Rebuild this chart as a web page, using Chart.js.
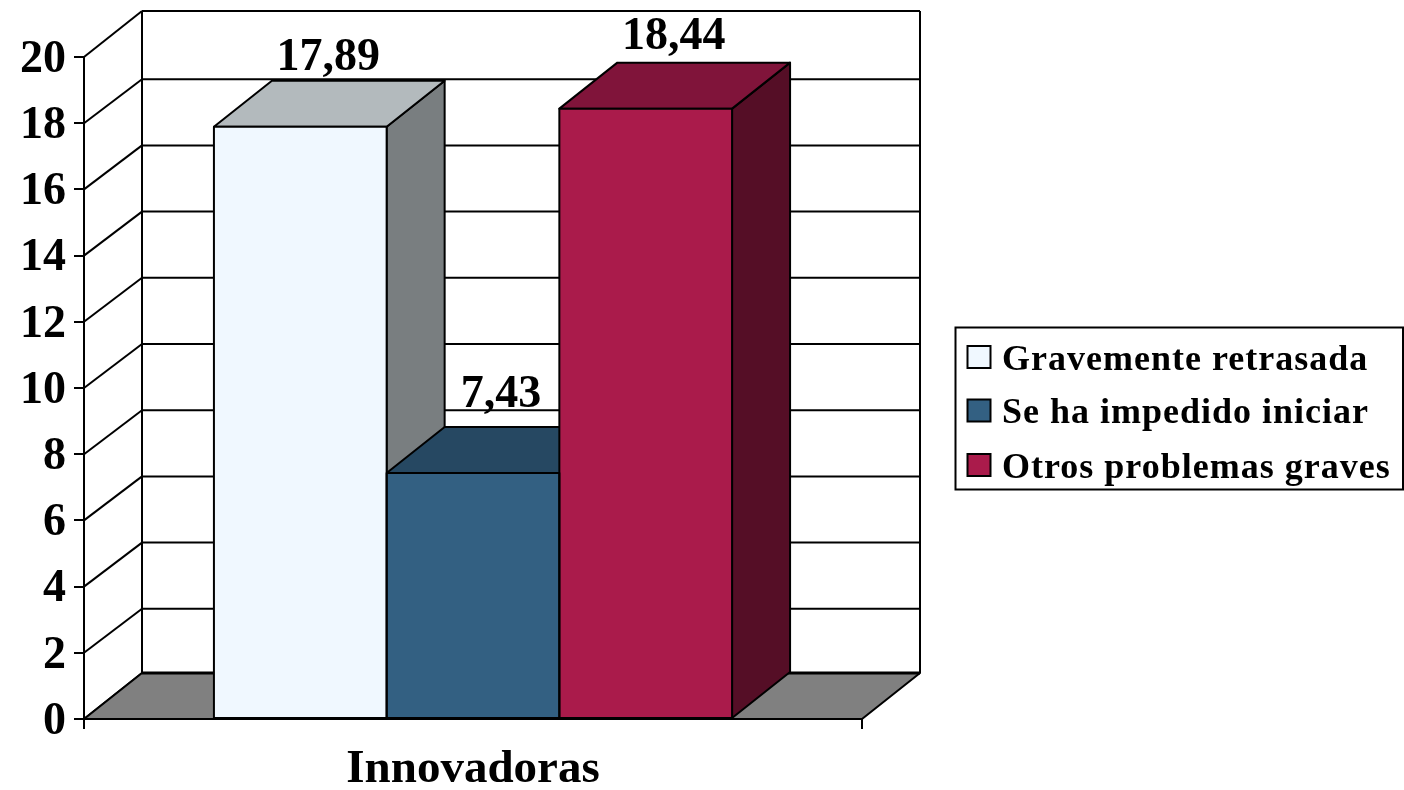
<!DOCTYPE html>
<html>
<head>
<meta charset="utf-8">
<style>
html, body { margin: 0; padding: 0; background: #fff; }
canvas { display: block; }
</style>
<script src="https://cdn.jsdelivr.net/npm/chart.js@4/dist/chart.umd.js"></script>
</head>
<body>
<canvas id="myChart" width="1404" height="790"></canvas>
<script type="text/javascript">
const categories = ["Innovadoras"];
const seriesNames = ["Gravemente retrasada", "Se ha impedido iniciar", "Otros problemas graves"];
const gravementeRetrasada = [17.89];
const impedidoIniciar = [7.43];
const otrosProblemas = [18.44];
const frontColors = ["#F0F8FF", "#336082", "#AA1B4B"];
const topColors = ["#B3BABD", "#264862", "#80143A"];
const sideColors = ["#797E80", "#1A3041", "#550E26"];

const SERIF = "'Liberation Serif', 'Times New Roman', serif";
const DEPTH_X = 58;
const DEPTH_Y = 46;

function poly(ctx, pts, fill, lw) {
	ctx.beginPath();
	pts.forEach((p, i) => i ? ctx.lineTo(p[0], p[1]) : ctx.moveTo(p[0], p[1]));
	ctx.closePath();
	if (fill) { ctx.fillStyle = fill; ctx.fill(); }
	ctx.lineWidth = lw;
	ctx.strokeStyle = "#000";
	ctx.lineJoin = "round";
	ctx.stroke();
}

function line(ctx, x1, y1, x2, y2, lw) {
	ctx.beginPath();
	ctx.moveTo(x1, y1);
	ctx.lineTo(x2, y2);
	ctx.lineWidth = lw;
	ctx.strokeStyle = "#000";
	ctx.stroke();
}

// back wall, floor and the side and top faces of the bars
const box3d = {
	id: "box3d",
	beforeDatasetsDraw(chart) {
		const ctx = chart.ctx;
		const a = chart.chartArea;
		const yScale = chart.scales.y;
		ctx.save();
		yScale.ticks.forEach(t => {
			const y = yScale.getPixelForValue(t.value);
			// inner wall lines sit a little lower than the corners in the original
			const dy = (t.value == 0 || t.value == 20) ? DEPTH_Y : DEPTH_Y - 2;
			line(ctx, a.left, y, a.left + DEPTH_X, y - dy, 2);
			if (t.value > 0) line(ctx, a.left + DEPTH_X, y - dy, a.right + DEPTH_X, y - dy, 2);
		});
		line(ctx, a.left + DEPTH_X, a.top - DEPTH_Y, a.left + DEPTH_X, a.bottom - DEPTH_Y, 2);
		line(ctx, a.right + DEPTH_X, a.top - DEPTH_Y, a.right + DEPTH_X, a.bottom - DEPTH_Y, 2);
		poly(ctx, [[a.left, a.bottom], [a.left + DEPTH_X, a.bottom - DEPTH_Y], [a.right + DEPTH_X, a.bottom - DEPTH_Y], [a.right, a.bottom]], "#808080", 2);
		line(ctx, a.left + DEPTH_X, a.bottom - DEPTH_Y, a.right + DEPTH_X, a.bottom - DEPTH_Y, 3);
		chart.data.datasets.forEach((ds, i) => {
			const bar = chart.getDatasetMeta(i).data[0];
			const l = bar.x - bar.width / 2;
			const r = bar.x + bar.width / 2;
			poly(ctx, [[r, bar.y], [r + DEPTH_X, bar.y - DEPTH_Y], [r + DEPTH_X, bar.base - DEPTH_Y], [r, bar.base]], sideColors[i], 2);
			poly(ctx, [[l, bar.y], [l + DEPTH_X, bar.y - DEPTH_Y], [r + DEPTH_X, bar.y - DEPTH_Y], [r, bar.y]], topColors[i], 2);
		});
		ctx.restore();
	},
	afterDatasetsDraw(chart) {
		const ctx = chart.ctx;
		const lift = [10.5, 20, 13.5];
		ctx.save();
		ctx.font = "bold 46px " + SERIF;
		ctx.textAlign = "center";
		ctx.textBaseline = "alphabetic";
		chart.data.datasets.forEach((ds, i) => {
			const bar = chart.getDatasetMeta(i).data[0];
			// front face outline, centred on the bar edges
			poly(ctx, [[bar.x - bar.width / 2, bar.y], [bar.x + bar.width / 2, bar.y], [bar.x + bar.width / 2, bar.base], [bar.x - bar.width / 2, bar.base]], null, 2);
		});
		ctx.fillStyle = "#000";
		chart.data.datasets.forEach((ds, i) => {
			const bar = chart.getDatasetMeta(i).data[0];
			ctx.fillText(ds.data[0].toFixed(2).replace(".", ","), bar.x + 28, bar.y - DEPTH_Y - lift[i]);
		});
		ctx.restore();
	},
	afterDraw(chart) {
		// legend box to the right of the plot
		const ctx = chart.ctx;
		const rows = [370, 423, 478];
		const boxes = [346, 399.5, 454];
		ctx.save();
		ctx.lineWidth = 2;
		ctx.strokeStyle = "#000";
		ctx.strokeRect(955.5, 327.5, 447.5, 162);
		ctx.font = "bold 36px " + SERIF;
		ctx.letterSpacing = "1px";
		ctx.textAlign = "left";
		ctx.textBaseline = "alphabetic";
		chart.data.datasets.forEach((ds, i) => {
			ctx.fillStyle = frontColors[i];
			ctx.fillRect(967.5, boxes[i], 23, 22);
			ctx.strokeRect(967.5, boxes[i], 23, 22);
			ctx.fillStyle = "#000";
			ctx.fillText(ds.label, 1002, rows[i]);
		});
		ctx.restore();
	}
};

function makeSet(name, values, color) {
	return {
		label: name,
		data: values,
		backgroundColor: color,
		borderWidth: 0,
		inflateAmount: 0
	};
}

new Chart("myChart", {
	type: "bar",
	data: {
		labels: categories,
		datasets: [
			makeSet(seriesNames[0], gravementeRetrasada, frontColors[0]),
			makeSet(seriesNames[1], impedidoIniciar, frontColors[1]),
			makeSet(seriesNames[2], otrosProblemas, frontColors[2])
		]
	},
	options: {
		responsive: false,
		animation: false,
		categoryPercentage: 0.666,
		barPercentage: 1,
		layout: { padding: { top: 57, right: 542, bottom: 0, left: 0 } },
		plugins: { legend: { display: false }, tooltip: { enabled: false } },
		scales: {
			x: {
				afterFit(scale) { scale.height = 71; },
				grid: { offset: true, drawOnChartArea: false, tickLength: 10, color: "#000", lineWidth: 2 },
				border: { color: "#000", width: 2 },
				ticks: {
					color: "#000",
					padding: 17,
					maxRotation: 0,
					font: { family: SERIF, size: 47, weight: "bold", lineHeight: 1 }
				}
			},
			y: {
				min: 0,
				max: 20,
				afterFit(scale) { scale.width = 84; },
				grid: { drawOnChartArea: false, tickLength: 10, color: "#000", lineWidth: 2 },
				border: { color: "#000", width: 2 },
				ticks: {
					stepSize: 2,
					color: "#000",
					padding: 8,
					labelOffset: 3,
					font: { family: SERIF, size: 46, weight: "bold", lineHeight: 1 }
				}
			}
		}
	},
	plugins: [box3d]
});
</script>
</body>
</html>
